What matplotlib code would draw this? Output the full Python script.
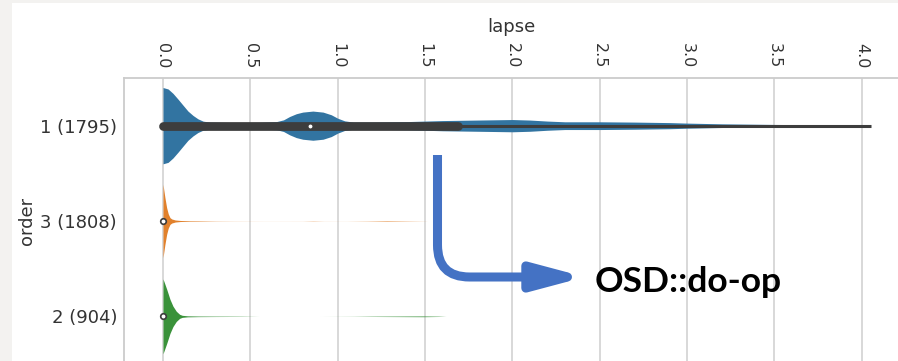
import matplotlib.pyplot as plt
from matplotlib.patches import FancyArrowPatch, Rectangle
import numpy as np

# categories, top to bottom
orders = ["1 (1795)", "3 (1808)", "2 (904)"]
colors = ["#3274a1", "#e1812c", "#3a923a"]

# violin outlines (lapse, relative density)
lapse_1 = [0.0, 0.029, 0.057, 0.086, 0.115, 0.143, 0.172, 0.2, 0.23, 0.27,
           0.4, 0.55, 0.65, 0.69, 0.725, 0.763, 0.8, 0.858, 0.916, 0.963,
           1.0, 1.04, 1.09, 1.2, 1.4, 1.6, 1.8, 2.0, 2.1, 2.2, 2.3, 2.5,
           2.7, 2.9, 3.0, 3.2, 3.5, 3.8, 4.05]
density_1 = [37.4, 36, 31.7, 26, 20, 14.3, 10, 6.7, 4.4, 3.5,
             3, 3.2, 4, 5.7, 9, 11.7, 13.3, 14.3, 13.3, 10.7,
             7.3, 4.7, 3.5, 3.5, 4, 5, 5.5, 6, 5.5, 4.5, 3.8, 3.8,
             3.5, 3, 2.5, 1.8, 1.2, 0.8, 0.5]

lapse_3 = [0.0, 0.005, 0.011, 0.021, 0.03, 0.04, 0.05, 0.07, 0.1, 0.15, 0.2,
           0.3, 0.4, 0.6, 0.8, 0.86, 0.92, 1.05, 1.17, 1.28, 1.4, 1.51]
density_3 = [36, 30, 23, 13, 7, 3.3, 2, 1, 0.5, 0.3, 0.25,
             0.1, 0.05, 0.02, 0.03, 0.12, 0.03, 0.02, 0.1, 0.25, 0.12, 0.02]

lapse_2 = [0.0, 0.01, 0.021, 0.04, 0.057, 0.076, 0.095, 0.11, 0.14, 0.2,
           0.3, 0.45, 0.55, 0.9, 1.09, 1.2, 1.35, 1.49, 1.58, 1.62]
density_2 = [36.7, 32, 26.7, 16.7, 10, 5, 2, 1, 0.5, 0.3,
             0.2, 0.12, 0.0, 0.0, 0.05, 0.15, 0.25, 0.35, 0.15, 0.0]

lapses = [lapse_1, lapse_3, lapse_2]
densities = [density_1, density_3, density_2]

# inner box stats
q1 = [0.0, 0.0, 0.0]
median = [0.84, 0.0, 0.0]
q3 = [1.69, 0.0, 0.0]
whisker_hi = [4.05, 0.0, 0.0]

xticks = [0.0, 0.5, 1.0, 1.5, 2.0, 2.5, 3.0, 3.5, 4.0]

W, H = 898, 361
fig = plt.figure(figsize=(W / 100, H / 100), dpi=100)
fig.patch.set_facecolor("#f3f2f0")
fig.add_artist(Rectangle((12 / W, 0), 1, 1 - 3 / H, transform=fig.transFigure,
                         facecolor="white", edgecolor="none", zorder=0))

ax = fig.add_axes([124 / W, -3 / H, (W - 124) / W, (364 - 78) / H])
ax.set_facecolor("white")

dark = "#3d3d3d"
dmax = max(max(d) for d in densities)
for i, (lx, dens, col) in enumerate(zip(lapses, densities, colors)):
    half = np.array(dens) / dmax * 0.4
    ax.fill_between(lx, i - half, i + half, color=col, lw=0, zorder=2)
    # whisker, box, median
    ax.plot([q1[i], whisker_hi[i]], [i, i], color=dark, lw=2.2,
            solid_capstyle="butt", zorder=3)
    ax.plot([q1[i], q3[i]], [i, i], color=dark, lw=6.3, solid_capstyle="round",
            zorder=3)
    ax.scatter([median[i]], [i], s=16, c="white", edgecolors=dark,
               linewidths=1.2, zorder=4)

ax.set_ylim(2.5, -0.5)
ax.set_xlim((124 - 163) / 174.7, (W - 163) / 174.7)
ax.set_yticks(range(len(orders)))
ax.set_yticklabels(orders)
ax.set_xticks(xticks)
ax.set_xticklabels([f"{t:.1f}" for t in xticks], rotation=-90)

ax.xaxis.tick_top()
ax.xaxis.set_label_position("top")
ax.tick_params(axis="both", length=0, colors="#333333")
ax.tick_params(axis="x", labelsize=11.5, pad=7)
ax.tick_params(axis="y", labelsize=13, pad=5)
ax.set_xlabel("lapse", fontsize=13, color="#333333", labelpad=8)
ax.set_ylabel("order", fontsize=13, color="#333333", labelpad=3)

ax.xaxis.grid(True, color="#d6d6d6", lw=1.3, zorder=0)
ax.yaxis.grid(False)
ax.set_axisbelow(True)
for side in ["right", "bottom"]:
    ax.spines[side].set_visible(False)
for side in ["top", "left"]:
    ax.spines[side].set_color("#cccccc")
    ax.spines[side].set_linewidth(1.3)

# callout arrow and text
arrow = FancyArrowPatch((437.5 / W, 1 - 155 / H), (585 / W, 1 - 277 / H),
                        transform=fig.transFigure,
                        connectionstyle="angle,angleA=90,angleB=0,rad=32",
                        arrowstyle="-|>,head_length=30,head_width=8",
                        mutation_scale=1, lw=6.5, color="#4472c4",
                        shrinkA=0, shrinkB=0, capstyle="butt")
fig.add_artist(arrow)
fig.text(595 / W, 1 - 292 / H, "OSD::do-op", fontsize=25.5, fontweight="bold",
         family="Lato", color="black", va="baseline", ha="left")

fig.savefig("out.png", dpi=100, facecolor=fig.get_facecolor())
